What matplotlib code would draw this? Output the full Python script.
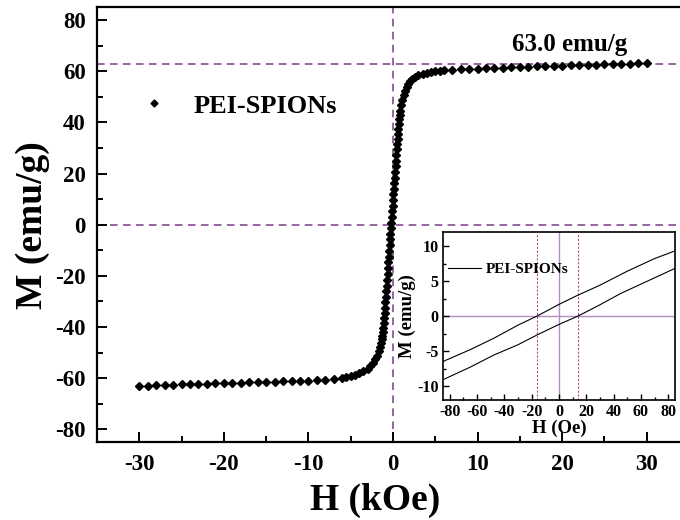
import matplotlib
matplotlib.use("Agg")
import matplotlib.pyplot as plt
from matplotlib.ticker import MultipleLocator

# Curva M-H principal (kOe, emu/g)
campo_kOe = [-30, -29, -28, -27, -26, -25, -24, -23, -22, -21, -20, -19, -18, -17,
             -16, -15, -14, -13, -12, -11, -10, -9, -8, -7, -6,
             -5.5, -5, -4.5, -4, -3.5, -3, -2.7, -2.4, -2.1, -1.9, -1.7, -1.55, -1.4, -1.3,
             -1.25, -1.2, -1.15, -1.1, -1.05, -1.0, -0.95, -0.9, -0.85, -0.8, -0.75, -0.7,
             -0.65, -0.6, -0.55, -0.5, -0.45, -0.4, -0.35, -0.3, -0.25, -0.2, -0.15, -0.1,
             -0.05, 0.0, 0.05, 0.1, 0.15, 0.2, 0.25, 0.3, 0.35, 0.4, 0.45, 0.5, 0.55, 0.6,
             0.65, 0.7, 0.75, 0.8, 0.85,
             0.95, 1.1, 1.25, 1.4, 1.6, 1.8, 2.0, 2.3, 2.6, 3.0, 3.5, 4.0, 4.5, 5.0, 5.5,
             6, 7, 8, 9, 10, 11, 12, 13, 14, 15, 16, 17, 18, 19, 20, 21, 22, 23, 24, 25,
             26, 27, 28, 29, 30]
magnetizacao = [-63.1, -63.0, -62.9, -62.8, -62.6, -62.5, -62.4, -62.3, -62.2, -62.1,
                -62.0, -61.9, -61.8, -61.7, -61.6, -61.5, -61.4, -61.3, -61.2, -61.1,
                -61.0, -60.8, -60.6, -60.3, -60.0,
                -59.6, -59.2, -58.8, -58.2, -57.4, -56.3, -55.4, -54.2, -52.6, -51.2, -49.6,
                -48.0, -46.3, -44.8,
                -43.5, -42.0, -40.3, -38.5, -36.6, -34.6, -32.5, -30.4, -28.2, -26.0, -23.8,
                -21.6, -19.4, -17.1, -14.8, -12.5, -10.2, -8.0, -5.8, -3.6, -1.4, 0.8, 3.0,
                5.2, 7.4, 9.6, 11.8, 14.0, 16.2, 18.4, 20.6, 22.8, 25.0, 27.2, 29.4, 31.5,
                33.6, 35.6, 37.6, 39.5, 41.3, 43.0, 44.6,
                46.8, 48.8, 50.6, 52.2, 53.8, 55.0, 56.0, 57.0, 57.8, 58.5, 59.0, 59.4, 59.7,
                59.9, 60.1,
                60.3, 60.5, 60.7, 60.9, 61.0, 61.2, 61.3, 61.4, 61.6, 61.7, 61.8, 61.9, 62.0,
                62.1, 62.2, 62.3, 62.4, 62.5, 62.6, 62.7, 62.8, 62.9, 63.0, 63.1, 63.2]

# Detalhe (inset) perto de H = 0, em Oe
campo_sup_Oe = [85, 70, 50, 30, 13, 0, -16, -30, -48, -65, -85]
mag_sup = [9.3, 8.2, 6.4, 4.4, 2.9, 1.66, 0.0, -1.3, -3.2, -4.8, -6.5]
campo_inf_Oe = [-85, -65, -48, -30, -16, 0, 14, 30, 45, 65, 85]
mag_inf = [-9.1, -7.3, -5.6, -4.1, -2.7, -1.2, 0.0, 1.6, 3.2, 5.0, 6.8]

ms_valor = 63.0
coercivo_Oe = [-16, 14]
rotulo = "PEI-SPIONs"

plt.rcParams["font.family"] = ["Liberation Serif", "DejaVu Serif"]
plt.rcParams["font.weight"] = "bold"
plt.rcParams["axes.unicode_minus"] = False
roxo = "#7a3a8a"
roxo_claro = "#b48cc4"
roxo_pont = "#a0509a"

fig = plt.figure(figsize=(6.8, 5.2), dpi=100)
ax = fig.add_axes([97 / 680, 78 / 520, 592 / 680, 434.7 / 520])

ax.axhline(ms_valor, color=roxo, ls=(0, (5, 3.5)), lw=1.1, zorder=1)
ax.axhline(0, color=roxo, ls=(0, (5, 3.5)), lw=1.1, zorder=1)
ax.axvline(0, color=roxo, ls=(0, (5, 3.5)), lw=1.1, zorder=1)
ax.plot(campo_kOe, magnetizacao, ls="none", marker="D", ms=4.4, color="black",
        label=rotulo, zorder=3)

ax.set_xlim(-35, 35)
ax.set_ylim(-85, 85)
ax.xaxis.set_major_locator(MultipleLocator(10))
ax.xaxis.set_minor_locator(MultipleLocator(5))
ax.yaxis.set_major_locator(MultipleLocator(20))
ax.yaxis.set_minor_locator(MultipleLocator(10))
ax.tick_params(which="both", direction="in", width=1.4, labelsize=16.5)
ax.tick_params(which="major", length=7)
ax.tick_params(which="minor", length=4.5)
ax.tick_params(axis="x", pad=9)
ax.tick_params(axis="y", pad=8)
for s in ax.spines.values():
    s.set_linewidth(1.6)

ax.set_xlabel("H (kOe)", fontsize=27, fontweight="bold")
ax.set_ylabel("M (emu/g)", fontsize=27, fontweight="bold")
ax.xaxis.set_label_coords(0.47, -0.095)
ax.yaxis.set_label_coords(-0.08, 0.5)

ax.text(20.9, 70.6, "63.0 emu/g", fontsize=18, fontweight="bold", ha="center", va="center")
ax.legend(loc="upper left", bbox_to_anchor=(0.07, 0.80), frameon=False, numpoints=1,
          markerscale=0.8, handlelength=1.2, handletextpad=0.9, borderaxespad=0,
          borderpad=0, prop={"size": 19, "weight": "bold"})

# inset
axi = fig.add_axes([443 / 680, 120 / 520, 232 / 680, 168 / 520])
axi.axhline(0, color=roxo_claro, lw=1.0, zorder=1)
axi.axvline(0, color=roxo_claro, lw=1.0, zorder=1)
for c in coercivo_Oe:
    axi.axvline(c, color=roxo_pont, ls=(0, (2, 1.5)), lw=0.8, zorder=1)
axi.plot(campo_sup_Oe, mag_sup, color="black", lw=0.8, label=rotulo, zorder=2)
axi.plot(campo_inf_Oe, mag_inf, color="black", lw=0.8, zorder=2)
axi.set_xlim(-85, 85)
axi.set_ylim(-12, 12)
axi.xaxis.set_major_locator(MultipleLocator(20))
axi.xaxis.set_minor_locator(MultipleLocator(10))
axi.yaxis.set_major_locator(MultipleLocator(5))
axi.yaxis.set_minor_locator(MultipleLocator(2.5))
axi.tick_params(which="both", direction="in", width=1.0, labelsize=11.5, pad=3)
axi.tick_params(which="major", length=4)
axi.tick_params(which="minor", length=2.5)
for s in axi.spines.values():
    s.set_linewidth(1.2)
axi.set_xlabel("H (Oe)", fontsize=13.5, fontweight="bold", labelpad=0)
axi.set_ylabel("M (emu/g)", fontsize=13.5, fontweight="bold", labelpad=1)
axi.legend(loc="upper left", bbox_to_anchor=(0.02, 0.82), frameon=False,
           handlelength=2.2, handletextpad=0.3, borderaxespad=0, borderpad=0,
           prop={"size": 11, "weight": "bold"})

fig.savefig("out.png", dpi=100)
